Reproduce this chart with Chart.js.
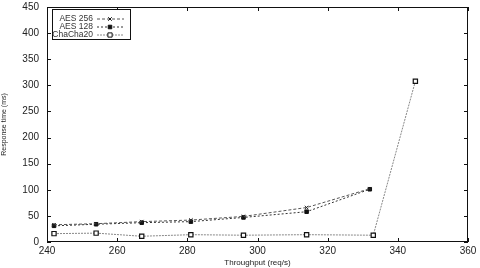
<!DOCTYPE html>
<html>
<head>
<meta charset="utf-8">
<script src="https://cdn.jsdelivr.net/npm/chart.js@4"></script>
<style>
  html, body { margin: 0; padding: 0; background: #fff; }
  #wrap { width: 480px; height: 268px; }
</style>
</head>
<body>
<div id="wrap"><canvas id="c"></canvas></div>
<script>
const aes256X = [242, 254, 267, 281, 296, 314, 332]
const aes256Y = [33, 35, 39, 42, 49, 66, 102]
const aes128X = [242, 254, 267, 281, 296, 314, 332]
const aes128Y = [31, 34, 37, 39, 47, 58, 101]
const chachaX = [242, 254, 267, 281, 296, 314, 333, 345]
const chachaY = [16, 17, 11, 14, 13, 14, 13, 308]

const xTicks = [240, 260, 280, 300, 320, 340, 360]
const yTicks = [0, 50, 100, 150, 200, 250, 300, 350, 400, 450]

const FONT = "Liberation Sans, Arial, sans-serif"

const toPoints = (xs, ys) => xs.map((x, i) => ({ x, y: ys[i] }))

const frameAndTicks = {
  id: "frameAndTicks",
  afterDraw(chart) {
    const { ctx, chartArea: a, scales } = chart
    ctx.save()
    ctx.strokeStyle = "#111"
    ctx.lineWidth = 1
    ctx.strokeRect(a.left + 0.5, a.top + 0.5, a.right - a.left - 1, a.bottom - a.top - 1)
    ctx.beginPath()
    xTicks.forEach(v => {
      const px = Math.round(scales.x.getPixelForValue(v)) + 0.5
      ctx.moveTo(px, a.bottom); ctx.lineTo(px, a.bottom - 4)
      ctx.moveTo(px, a.top); ctx.lineTo(px, a.top + 4)
    })
    yTicks.forEach(v => {
      const py = Math.round(scales.y.getPixelForValue(v)) + 0.5
      ctx.moveTo(a.left, py); ctx.lineTo(a.left + 4, py)
      ctx.moveTo(a.right, py); ctx.lineTo(a.right - 4, py)
    })
    ctx.stroke()

    // legend box inside the plot
    const bx = a.left + 5, by = a.top + 2, bw = 78, bh = 30
    ctx.fillStyle = "#fff"
    ctx.fillRect(bx, by, bw, bh)
    ctx.strokeRect(bx + 0.5, by + 0.5, bw, bh)
    ctx.font = "8.5px " + FONT
    ctx.textAlign = "right"
    ctx.textBaseline = "middle"
    chart.data.datasets.forEach((ds, i) => {
      const y = by + 10 + i * 8
      ctx.fillStyle = "#333"
      ctx.fillText(ds.label, bx + 41, y)
      ctx.strokeStyle = ds.borderColor
      ctx.setLineDash(ds.borderDash)
      ctx.beginPath()
      ctx.moveTo(bx + 45, y); ctx.lineTo(bx + 72, y)
      ctx.stroke()
      ctx.setLineDash([])
      ctx.fillStyle = ds.pointBackgroundColor
      ctx.strokeStyle = "#111"
      Chart.helpers.drawPoint(ctx, {
        pointStyle: ds.pointStyle, radius: ds.pointRadius, borderWidth: 1
      }, bx + 58, y)
    })
    ctx.restore()
  }
}

new Chart(document.getElementById("c"), {
  type: "scatter",
  data: {
    datasets: [
      {
        label: "AES 256",
        data: toPoints(aes256X, aes256Y),
        showLine: true,
        borderColor: "#555",
        borderWidth: 1,
        borderDash: [3, 2],
        pointStyle: "crossRot",
        pointRadius: 2.5,
        pointBorderColor: "#222",
        pointBackgroundColor: "#222",
        pointBorderWidth: 1
      },
      {
        label: "AES 128",
        data: toPoints(aes128X, aes128Y),
        showLine: true,
        borderColor: "#333",
        borderWidth: 1,
        borderDash: [2, 2],
        pointStyle: "rect",
        pointRadius: 2.5,
        pointBorderColor: "#111",
        pointBackgroundColor: "#111",
        pointBorderWidth: 1
      },
      {
        label: "ChaCha20",
        data: toPoints(chachaX, chachaY),
        showLine: true,
        borderColor: "#888",
        borderWidth: 1,
        borderDash: [2, 1],
        pointStyle: "rect",
        pointRadius: 3,
        pointBorderColor: "#111",
        pointBackgroundColor: "#fff",
        pointBorderWidth: 1.2
      }
    ]
  },
  options: {
    responsive: true,
    maintainAspectRatio: false,
    animation: false,
    layout: { padding: { top: 7, right: 12, left: 0, bottom: 0 } },
    plugins: {
      legend: { display: false },
      tooltip: { enabled: false }
    },
    scales: {
      x: {
        type: "linear",
        min: 240,
        max: 360,
        afterBuildTicks: (s) => { s.ticks = xTicks.map(v => ({ value: v })) },
        afterFit: (s) => { s.height = 26 },
        grid: { display: false, drawTicks: false },
        border: { display: false },
        ticks: { color: "#222", font: { family: FONT, size: 10 }, padding: 3, maxRotation: 0 },
        title: { display: true, text: "Throughput (req/s)", color: "#222", font: { family: FONT, size: 8 }, padding: { top: 0, bottom: 0 } }
      },
      y: {
        type: "linear",
        min: 0,
        max: 450,
        afterBuildTicks: (s) => { s.ticks = yTicks.map(v => ({ value: v })) },
        afterFit: (s) => { s.width = 47; s.paddingTop = 0; s.paddingBottom = 0 },
        grid: { display: false, drawTicks: false },
        border: { display: false },
        ticks: { color: "#222", font: { family: FONT, size: 10 }, padding: 8 },
        title: { display: true, text: "Response time (ms)", color: "#222", font: { family: FONT, size: 7 }, padding: { top: 0, bottom: 2 } }
      }
    }
  },
  plugins: [frameAndTicks]
})
</script>
</body>
</html>
